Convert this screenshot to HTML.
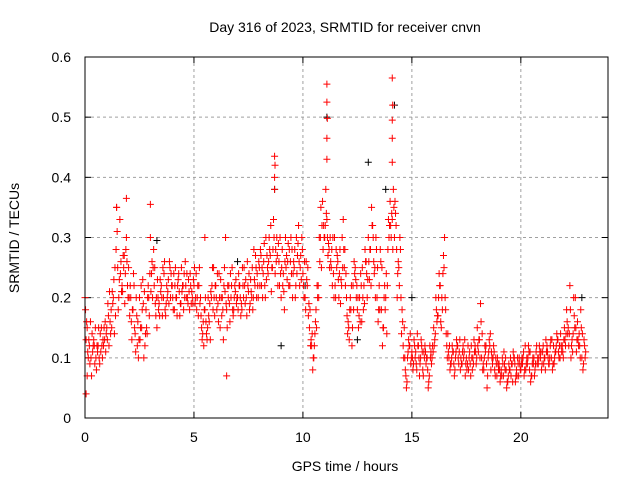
<!DOCTYPE html>
<html><head><meta charset="utf-8"><style>
body{margin:0;background:#fff}
svg{display:block;font-family:"Liberation Sans",sans-serif}
</style></head><body>
<svg id="chart" width="640" height="480" viewBox="0 0 640 480">
<text x="345" y="32" font-size="14" text-anchor="middle">Day 316 of 2023, SRMTID for receiver cnvn</text>
<text x="345" y="471" font-size="14" text-anchor="middle">GPS time / hours</text>
<text transform="translate(19,238) rotate(-90)" font-size="14" text-anchor="middle">SRMTID / TECUs</text>
<g id="grid"></g><g id="ticks"></g><g id="marks"></g>
<rect x="85" y="57" width="523" height="361" fill="none" stroke="#000" stroke-width="1"/>
</svg>
<script>
const xTicks=[0,5,10,15,20];
const yTicks=[0,0.1,0.2,0.3,0.4,0.5,0.6];
const yTickLabels=["0","0.1","0.2","0.3","0.4","0.5","0.6"];
const seriesA=[0.2,0.15,0.12,0.07,0.13,0.1,0.12,0.14,0.1,0.13,
0.15,0.12,0.18,0.2,0.17,0.25,0.33,0.22,0.27,0.3,
0.25,0.2,0.18,0.14,0.12,0.2,0.15,0.1,0.18,0.22,
0.3,0.2,0.25,0.15,0.19,0.22,0.2,0.17,0.21,0.25,
0.22,0.18,0.2,0.24,0.19,0.22,0.26,0.2,0.18,0.21,
0.22,0.24,0.17,0.2,0.14,0.18,0.13,0.16,0.2,0.25,
0.22,0.19,0.15,0.2,0.25,0.18,0.22,0.2,0.17,0.21,
0.2,0.22,0.18,0.25,0.2,0.21,0.23,0.18,0.22,0.24,
0.25,0.22,0.26,0.3,0.24,0.27,0.25,0.38,0.3,0.26,
0.2,0.24,0.3,0.26,0.22,0.28,0.25,0.3,0.32,0.27,
0.24,0.2,0.22,0.15,0.12,0.1,0.18,0.22,0.3,0.36,
0.3,0.33,0.28,0.25,0.24,0.2,0.26,0.28,0.3,0.25,
0.2,0.15,0.18,0.22,0.25,0.18,0.2,0.16,0.22,0.26,
0.3,0.28,0.32,0.25,0.2,0.22,0.18,0.15,0.2,0.28,
0.36,0.33,0.3,0.28,0.25,0.2,0.12,0.08,0.1,0.12,
0.11,0.13,0.09,0.12,0.1,0.08,0.12,0.1,0.07,0.09,
0.15,0.2,0.17,0.22,0.18,0.3,0.12,0.1,0.09,0.11,
0.1,0.12,0.13,0.09,0.11,0.1,0.08,0.07,0.1,0.12,
0.15,0.13,0.1,0.08,0.12,0.1,0.14,0.09,0.08,0.07,
0.09,0.08,0.07,0.1,0.06,0.08,0.09,0.1,0.08,0.07,
0.08,0.1,0.12,0.09,0.08,0.07,0.1,0.11,0.09,0.1,
0.11,0.1,0.12,0.09,0.1,0.12,0.11,0.13,0.1,0.12,
0.15,0.18,0.12,0.1,0.14,0.2,0.16,0.12,0.1,0.13];
const seriesB=[0.13,0.1,0.16,0.11,0.09,0.12,0.1,0.15,0.12,0.11,
0.19,0.16,0.21,0.14,0.35,0.2,0.26,0.27,0.24,0.22,
0.17,0.13,0.22,0.2,0.1,0.15,0.23,0.12,0.14,0.17,
0.24,0.28,0.17,0.2,0.23,0.17,0.26,0.22,0.19,0.24,
0.18,0.25,0.22,0.17,0.21,0.24,0.2,0.23,0.22,0.19,
0.19,0.2,0.25,0.15,0.12,0.16,0.2,0.13,0.25,0.17,
0.18,0.24,0.2,0.13,0.3,0.22,0.16,0.25,0.2,0.19,
0.24,0.17,0.22,0.19,0.26,0.18,0.2,0.28,0.25,0.2,
0.28,0.2,0.22,0.27,0.3,0.21,0.33,0.28,0.22,0.3,
0.28,0.18,0.27,0.22,0.3,0.24,0.2,0.27,0.22,0.3,
0.2,0.26,0.17,0.12,0.08,0.14,0.22,0.3,0.25,0.32,
0.38,0.27,0.3,0.22,0.3,0.25,0.2,0.23,0.33,0.22,
0.14,0.18,0.12,0.26,0.2,0.15,0.24,0.2,0.28,0.2,
0.23,0.35,0.26,0.3,0.16,0.28,0.12,0.22,0.14,0.3,
0.3,0.38,0.34,0.24,0.3,0.18,0.15,0.05,0.13,0.09,
0.08,0.1,0.14,0.07,0.12,0.11,0.09,0.05,0.1,0.12,
0.13,0.16,0.24,0.15,0.27,0.18,0.14,0.08,0.12,0.07,
0.13,0.09,0.1,0.12,0.07,0.09,0.11,0.1,0.13,0.09,
0.11,0.19,0.08,0.12,0.05,0.13,0.11,0.12,0.1,0.09,
0.06,0.1,0.09,0.05,0.09,0.07,0.11,0.06,0.1,0.09,
0.1,0.07,0.09,0.12,0.06,0.1,0.08,0.09,0.12,0.08,
0.09,0.13,0.1,0.12,0.08,0.1,0.14,0.1,0.12,0.1,
0.12,0.14,0.22,0.13,0.17,0.11,0.12,0.18,0.08,0.1];
const seriesC=[0.18,0.11,0.09,0.14,0.12,0.08,0.15,0.11,0.13,0.16,
0.13,0.21,0.15,0.23,0.28,0.18,0.24,0.21,0.19,0.26,
0.2,0.16,0.24,0.11,0.16,0.13,0.18,0.21,0.15,0.2,
0.21,0.25,0.19,0.23,0.17,0.2,0.24,0.19,0.23,0.2,
0.2,0.22,0.17,0.21,0.25,0.18,0.22,0.19,0.24,0.2,
0.25,0.18,0.22,0.17,0.16,0.2,0.15,0.19,0.22,0.2,
0.2,0.16,0.23,0.18,0.21,0.15,0.19,0.22,0.18,0.23,
0.18,0.2,0.25,0.22,0.17,0.24,0.21,0.2,0.27,0.22,
0.22,0.25,0.29,0.23,0.26,0.32,0.28,0.24,0.27,0.22,
0.25,0.21,0.25,0.29,0.26,0.2,0.28,0.24,0.26,0.23,
0.22,0.18,0.25,0.18,0.14,0.12,0.15,0.2,0.35,0.28,
0.32,0.3,0.25,0.28,0.2,0.28,0.23,0.19,0.25,0.28,
0.17,0.13,0.22,0.18,0.23,0.2,0.16,0.25,0.19,0.24,
0.26,0.22,0.3,0.2,0.25,0.18,0.25,0.2,0.24,0.33,
0.32,0.28,0.36,0.2,0.22,0.14,0.1,0.07,0.11,0.14,
0.1,0.12,0.08,0.1,0.13,0.07,0.11,0.08,0.12,0.1,
0.12,0.18,0.2,0.16,0.24,0.2,0.1,0.12,0.1,0.09,
0.11,0.1,0.08,0.11,0.13,0.08,0.1,0.12,0.09,0.11,
0.12,0.1,0.14,0.1,0.09,0.11,0.08,0.1,0.07,0.1,
0.08,0.07,0.11,0.08,0.07,0.1,0.06,0.09,0.07,0.1,
0.09,0.11,0.08,0.1,0.11,0.09,0.07,0.12,0.1,0.11,
0.12,0.08,0.11,0.1,0.13,0.09,0.12,0.11,0.14,0.11,
0.13,0.16,0.14,0.12,0.2,0.15,0.13,0.1,0.14,0.12];
const seriesD=[0.16,0.13,0.1,0.12,0.15,0.11,0.09,0.12,0.15,0.14,
0.17,0.14,0.19,0.25,0.31,0.23,0.21,0.25,0.28,0.2,
0.22,0.18,0.15,0.17,0.13,0.22,0.19,0.14,0.2,0.24,
0.26,0.22,0.2,0.18,0.21,0.25,0.18,0.2,0.26,0.22,
0.24,0.2,0.23,0.19,0.22,0.2,0.24,0.21,0.19,0.23,
0.2,0.22,0.19,0.13,0.18,0.14,0.17,0.21,0.18,0.22,
0.24,0.2,0.17,0.22,0.19,0.2,0.24,0.18,0.22,0.2,
0.22,0.19,0.2,0.23,0.22,0.19,0.25,0.23,0.2,0.26,
0.27,0.24,0.2,0.25,0.28,0.25,0.3,0.26,0.29,0.24,
0.22,0.26,0.23,0.28,0.24,0.26,0.22,0.29,0.25,0.28,
0.26,0.23,0.19,0.13,0.1,0.16,0.2,0.26,0.32,0.3,
0.34,0.29,0.26,0.3,0.22,0.27,0.24,0.22,0.28,0.24,
0.16,0.2,0.15,0.24,0.22,0.17,0.22,0.18,0.26,0.23,
0.28,0.32,0.24,0.28,0.18,0.26,0.15,0.18,0.22,0.32,
0.34,0.35,0.32,0.26,0.28,0.16,0.1,0.06,0.12,0.1,
0.09,0.11,0.12,0.09,0.11,0.1,0.1,0.06,0.11,0.11,
0.14,0.17,0.22,0.2,0.25,0.14,0.11,0.09,0.11,0.08,
0.12,0.11,0.09,0.1,0.09,0.12,0.09,0.08,0.11,0.1,
0.13,0.16,0.09,0.11,0.07,0.12,0.1,0.11,0.09,0.08,
0.07,0.09,0.08,0.06,0.08,0.09,0.1,0.07,0.09,0.08,
0.09,0.08,0.1,0.11,0.07,0.09,0.09,0.1,0.11,0.09,
0.1,0.11,0.09,0.13,0.09,0.11,0.13,0.12,0.11,0.13,
0.14,0.15,0.18,0.11,0.15,0.13,0.14,0.15,0.09,0.11];
const spikeTimes=[11.1,11.1,11.12,11.1,11.1,14.1,14.12,14.1,14.1,14.1,8.7,8.72,8.7,1.45,1.9,3.0,0.05,0.1,5.5,6.5];
const spikeValues=[0.555,0.525,0.498,0.465,0.43,0.565,0.52,0.495,0.465,0.425,0.435,0.42,0.4,0.35,0.365,0.355,0.04,0.07,0.3,0.07];
const blackTimes=[13.0,11.1,14.2,8.7,9.0,15.0,3.3,12.5,13.8,22.8,10.1,7.0];
const blackValues=[0.425,0.5,0.52,0.38,0.12,0.2,0.295,0.13,0.38,0.2,0.22,0.26];
const NS='http://www.w3.org/2000/svg';
const L=85,R=608,T=57,B=418;
function xs(v){return L+v*(R-L)/24;}
function ys(v){return B-v*(B-T)/0.6;}
const grid=document.getElementById('grid'),ticks=document.getElementById('ticks'),marks=document.getElementById('marks');
function mk(tag,attrs,parent){const e=document.createElementNS(NS,tag);for(const k in attrs)e.setAttribute(k,attrs[k]);parent.appendChild(e);return e;}
xTicks.forEach(t=>{
 const x=xs(t);
 if(t>0){const g=mk('line',{x1:x,x2:x,y1:T,y2:B,stroke:'#a0a0a0','stroke-dasharray':'3,3'},grid);
 
 }
 mk('line',{x1:x,x2:x,y1:B,y2:B-6,stroke:'#000'},ticks);
 mk('line',{x1:x,x2:x,y1:T,y2:T+6,stroke:'#000'},ticks);
 const tx=mk('text',{x:x,y:B+24,'font-size':14,'text-anchor':'middle'},ticks);tx.textContent=t;
 
 
});
yTicks.forEach((t,i)=>{
 const y=ys(t);
 if(t>0&&t<0.6){const g=mk('line',{x1:L,x2:R,y1:y,y2:y,stroke:'#a0a0a0','stroke-dasharray':'3,3'},grid);
 
 }
 mk('line',{x1:L,x2:L+6,y1:y,y2:y,stroke:'#000'},ticks);
 mk('line',{x1:R,x2:R-6,y1:y,y2:y,stroke:'#000'},ticks);
 const tx=mk('text',{x:L-14,y:y+5,'font-size':14,'text-anchor':'end'},ticks);tx.textContent=yTickLabels[i];
 
 
});
function plus(t,v,color,name){
 const x=xs(t),y=ys(v);
 const p=mk('path',{d:`M${x-3.5},${y}H${x+3.5}M${x},${y-3.5}V${y+3.5}`,stroke:color,'stroke-width':1,fill:'none'},marks);
 
 
}
blackTimes.forEach((t,i)=>plus(t,blackValues[i],'#000','black-point'));
seriesA.forEach((v,i)=>plus(i*0.1,v,'#f00','srmtid-point'));
seriesC.forEach((v,i)=>plus(i*0.1+0.025,v,'#f00','srmtid-point'));
seriesB.forEach((v,i)=>plus(i*0.1+0.05,v,'#f00','srmtid-point'));
seriesD.forEach((v,i)=>plus(i*0.1+0.075,v,'#f00','srmtid-point'));
spikeTimes.forEach((t,i)=>plus(t,spikeValues[i],'#f00','srmtid-point'));
</script>
</body></html>
